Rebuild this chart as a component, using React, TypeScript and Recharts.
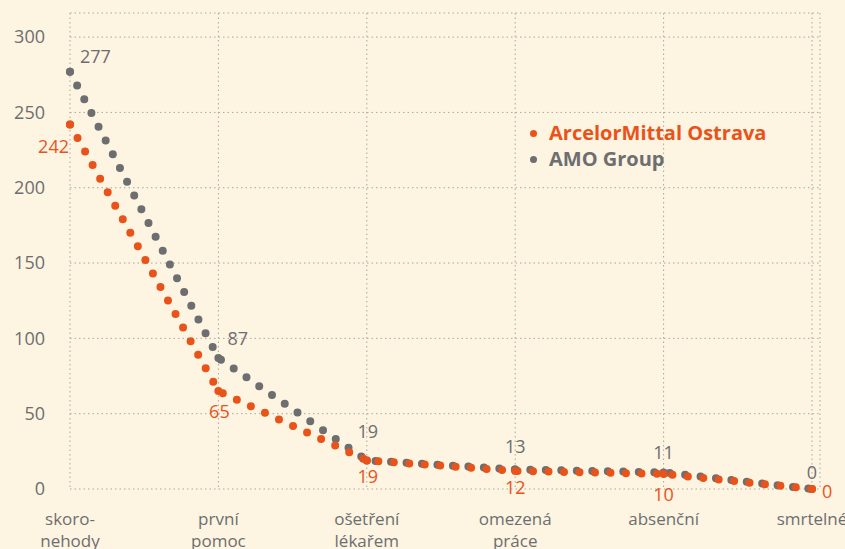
import React from "react"
import { LineChart, Line, XAxis, YAxis, CartesianGrid, LabelList } from "recharts"

const categories = ["skoro-\nnehody", "první\npomoc", "ošetření\nlékařem", "omezená\npráce", "absenční", "smrtelné"]
const amValues = [242, 65, 19, 12, 10, 0]
const amoValues = [277, 87, 19, 13, 11, 0]
const yTicks = [0, 50, 100, 150, 200, 250, 300]

const ORANGE = "#e9531a"
const GREY = "#6d6e70"
const BG = "#fdf4e1"
const FONT = "'Open Sans', sans-serif"

const data = categories.map((c, i) => ({ cat: c, am: amValues[i], amo: amoValues[i] }))

// label placement per point: [dx, dy, anchor]
const amoPlace: [number, number, string][] = [
    [10, -16, "start"],
    [9, -20, "start"],
    [1, -29, "middle"],
    [0, -23, "middle"],
    [0, -20, "middle"],
    [0, -17, "middle"],
]
const amPlace: [number, number, string][] = [
    [-1, 22, "end"],
    [1, 20, "middle"],
    [1, 16, "middle"],
    [0, 16, "middle"],
    [0, 20, "middle"],
    [10, 2, "start"],
]

const makeLabel = (place: [number, number, string][], color: string) => (props: any) => {
    const { x, y, value, index } = props
    const [dx, dy, anchor] = place[index]
    return (
        <text
            x={x + dx}
            y={y + dy}
            textAnchor={anchor}
            dominantBaseline="central"
            fill={color}
            fontSize={18}
            fontWeight={500}
            fontFamily={FONT}
        >
            {value}
        </text>
    )
}

const XTick = (props: any) => {
    const { x, y, payload } = props
    const lines = String(payload.value).split("\n")
    return (
        <g>
            {lines.map((l, i) => (
                <text
                    key={i}
                    x={x}
                    y={y + 21 + i * 22}
                    textAnchor="middle"
                    dominantBaseline="central"
                    fill={GREY}
                    fontSize={17}
                    fontWeight={500}
                    fontFamily={FONT}
                >
                    {l}
                </text>
            ))}
        </g>
    )
}

export default function App() {
    return (
        <div style={{ position: "absolute", left: 0, top: 0, width: 845, height: 549, background: BG, overflow: "hidden" }}>
            <LineChart
                width={845}
                height={549}
                data={data}
                margin={{ top: 13, right: 25, bottom: 0, left: 0 }}
            >
                <CartesianGrid stroke="#aca79d" strokeDasharray="1.5 3" />
                <XAxis
                    dataKey="cat"
                    axisLine={false}
                    tickLine={false}
                    height={60}
                    interval={0}
                    padding={{ left: 0, right: 8 }}
                    tick={<XTick />}
                />
                <YAxis
                    domain={[0, 316]}
                    ticks={yTicks}
                    axisLine={false}
                    tickLine={false}
                    tickSize={0}
                    tickMargin={25}
                    width={70}
                    tick={{ fontSize: 18, fill: GREY, fontFamily: FONT, fontWeight: 500 }}
                />
                <Line
                    dataKey="amo"
                    stroke={GREY}
                    strokeWidth={8}
                    strokeLinecap="round"
                    strokeDasharray="0 15.5"
                    dot={{ r: 4, fill: GREY, stroke: "none" }}
                    isAnimationActive={false}
                >
                    <LabelList dataKey="amo" content={makeLabel(amoPlace, GREY)} />
                </Line>
                <Line
                    dataKey="am"
                    stroke={ORANGE}
                    strokeWidth={8}
                    strokeLinecap="round"
                    strokeDasharray="0 15.5"
                    dot={{ r: 4, fill: ORANGE, stroke: "none" }}
                    isAnimationActive={false}
                >
                    <LabelList dataKey="am" content={makeLabel(amPlace, ORANGE)} />
                </Line>
            </LineChart>
            <div style={{ position: "absolute", left: 530, top: 120, fontFamily: FONT, fontWeight: 700, fontSize: 20, lineHeight: "26px" }}>
                <div style={{ color: ORANGE, display: "flex", alignItems: "center" }}>
                    <span style={{ width: 7, height: 7, borderRadius: 4, background: ORANGE, marginRight: 12 }} />
                    ArcelorMittal Ostrava
                </div>
                <div style={{ color: GREY, display: "flex", alignItems: "center" }}>
                    <span style={{ width: 7, height: 7, borderRadius: 4, background: GREY, marginRight: 12 }} />
                    AMO Group
                </div>
            </div>
        </div>
    )
}
